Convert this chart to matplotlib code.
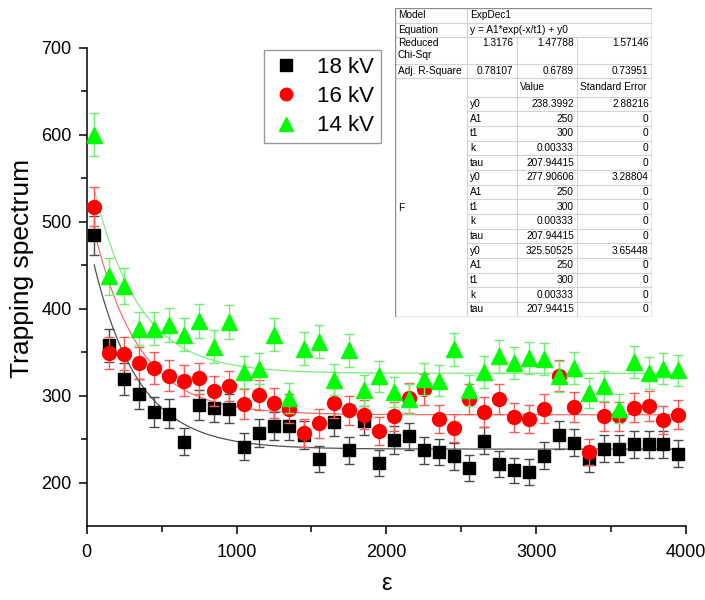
import numpy as np
import matplotlib.pyplot as plt
from matplotlib.lines import Line2D
from matplotlib.patches import Rectangle

plt.rcParams['font.family'] = ['Liberation Sans', 'DejaVu Sans']

# ---- data ----
eps = [50, 150, 250, 350, 450, 550, 650, 750, 850, 950,
       1050, 1150, 1250, 1350, 1450, 1550, 1650, 1750, 1850, 1950,
       2050, 2150, 2250, 2350, 2450, 2550, 2650, 2750, 2850, 2950,
       3050, 3150, 3250, 3350, 3450, 3550, 3650, 3750, 3850, 3950]

trap_18kv = [484, 358, 319, 302, 281, 279, 247, 289, 286, 285,
             241, 257, 265, 265, 255, 227, 270, 237, 271, 222,
             249, 253, 237, 235, 230, 217, 248, 221, 214, 212,
             231, 255, 246, 227, 239, 239, 244, 244, 244, 233]
err_18kv = [22.0, 18.9, 17.9, 17.4, 16.8, 16.7, 15.7, 17.0, 16.9, 16.9,
            15.5, 16.0, 16.3, 16.3, 16.0, 15.1, 16.4, 15.4, 16.5, 14.9,
            15.8, 15.9, 15.4, 15.3, 15.2, 14.7, 15.7, 14.9, 14.6, 14.6,
            15.2, 16.0, 15.7, 15.1, 15.5, 15.5, 15.6, 15.6, 15.6, 15.3]

trap_16kv = [517, 349, 348, 337, 332, 323, 317, 320, 305, 311,
             290, 301, 291, 285, 257, 268, 291, 283, 278, 259,
             276, 297, 307, 273, 263, 296, 281, 296, 275, 273,
             285, 323, 287, 235, 276, 276, 286, 288, 272, 278]
err_16kv = [22.7, 18.7, 18.7, 18.4, 18.2, 18.0, 17.8, 17.9, 17.5, 17.6,
            17.0, 17.3, 17.1, 16.9, 16.0, 16.4, 17.1, 16.8, 16.7, 16.1,
            16.6, 17.2, 17.5, 16.5, 16.2, 17.2, 16.8, 17.2, 16.6, 16.5,
            16.9, 18.0, 16.9, 15.3, 16.6, 16.6, 16.9, 17.0, 16.5, 16.7]

trap_14kv = [600, 437, 426, 377, 377, 381, 370, 386, 356, 385,
             327, 331, 370, 297, 354, 362, 318, 352, 306, 322,
             304, 296, 319, 317, 353, 306, 327, 345, 337, 343,
             342, 322, 332, 303, 311, 285, 339, 326, 331, 329]
err_14kv = [24.5, 20.9, 20.6, 19.4, 19.4, 19.5, 19.2, 19.6, 18.9, 19.6,
            18.1, 18.2, 19.2, 17.2, 18.8, 19.0, 17.8, 18.8, 17.5, 17.9,
            17.4, 17.2, 17.9, 17.8, 18.8, 17.5, 18.1, 18.6, 18.4, 18.5,
            18.5, 17.9, 18.2, 17.4, 17.6, 16.9, 18.4, 18.1, 18.2, 18.1]

labels = ['18 kV', '16 kV', '14 kV']

# ExpDec1 fit results (from the table)
fit_y0 = [238.3992, 277.90606, 325.50525]
fit_y0_err = [2.88216, 3.28804, 3.65448]
fit_A1 = 250
fit_t1 = 300
fit_k = 0.00333
fit_tau = 207.94415
chi_sqr = ['1.3176', '1.47788', '1.57146']
adj_r2 = ['0.78107', '0.6789', '0.73951']

# ---- figure ----
fig = plt.figure(figsize=(7.05, 6.0), dpi=100)
ax = fig.add_axes([0.123, 0.1233, 0.850, 0.7975])

series = [(trap_18kv, err_18kv), (trap_16kv, err_16kv), (trap_14kv, err_14kv)]
markers = ['s', 'o', '^']
msizes = [9, 10, 11]
colors = ['#000000', '#ff0000', '#00ff00']
ecolors = ['#4a4a4a', '#ff5a5a', '#70f070']
fitcolors = ['#505050', '#ff6a6a', '#7af07a']

# fitted ExpDec1 curves
xfit = np.linspace(eps[0], eps[-1], 400)
for i in range(3):
    yfit = fit_A1 * np.exp(-xfit / fit_t1) + fit_y0[i]
    ax.plot(xfit, yfit, color=fitcolors[i], lw=0.9, zorder=1)

handles = []
for i, (yv, ev) in enumerate(series):
    ax.errorbar(eps, yv, yerr=ev, fmt=markers[i], color=colors[i], ms=msizes[i],
                ecolor=ecolors[i], elinewidth=1, capsize=3.5, capthick=1,
                mec=colors[i], zorder=2 + i)
    handles.append(Line2D([], [], ls='none', marker=markers[i], color=colors[i],
                          ms=msizes[i] - 1))

ax.set_xlim(0, 4000)
ax.set_ylim(150, 700)
ax.set_xticks([0, 1000, 2000, 3000, 4000])
ax.set_xticks([500, 1500, 2500, 3500], minor=True)
ax.set_yticks([200, 300, 400, 500, 600, 700])
ax.set_yticks([250, 350, 450, 550, 650], minor=True)
ax.spines['top'].set_visible(False)
ax.spines['right'].set_visible(False)
for sp in ['left', 'bottom']:
    ax.spines[sp].set_linewidth(1.1)
ax.tick_params(which='major', direction='out', length=6, width=1.1, labelsize=13)
ax.tick_params(which='minor', direction='out', length=4, width=1.1)
ax.tick_params(axis='x', pad=7)
ax.tick_params(axis='y', pad=5)

ax.set_ylabel('Trapping spectrum', fontsize=19)
ax.yaxis.set_label_coords(-0.088, 0.538)
ax.set_xlabel('ε', fontsize=17)
ax.xaxis.set_label_coords(0.5, -0.098)

leg = ax.legend(handles, labels, loc='upper left', bbox_to_anchor=(0.296, 0.995),
                fontsize=16, frameon=True, fancybox=False, edgecolor='#808080',
                handletextpad=0.7, labelspacing=0.38, borderpad=0.3,
                handlelength=1.4, borderaxespad=0)
leg.get_frame().set_linewidth(1.0)

# ---- fit result table ----
col_x = [395, 467.3, 516.7, 576.7, 651.7]
row_y = [8.3, 22.7, 36.7, 64.0, 78.3, 96.7]
row_h = 14.67
par_rows = []
for i in range(3):
    par_rows += [('y0', str(fit_y0[i]), str(fit_y0_err[i])),
                 ('A1', str(fit_A1), '0'),
                 ('t1', str(fit_t1), '0'),
                 ('k', str(fit_k), '0'),
                 ('tau', str(fit_tau), '0')]
for n in range(len(par_rows)):
    row_y.append(96.7 + (n + 1) * row_h)

W, H = 705, 600
tab = fig.add_axes([col_x[0] / W, 1 - row_y[-1] / H,
                    (col_x[-1] - col_x[0]) / W, (row_y[-1] - row_y[0]) / H], zorder=10)
tab.set_xlim(col_x[0], col_x[-1])
tab.set_ylim(row_y[-1], row_y[0])
tab.set_axis_off()
tab.add_patch(Rectangle((col_x[0], row_y[0]), col_x[-1] - col_x[0], row_y[-1] - row_y[0],
                        facecolor='white', edgecolor='none', zorder=0))

inner = dict(color='#d4d4d4', lw=0.8, zorder=1)
for yy in row_y[1:5]:
    tab.plot([col_x[0], col_x[-1]], [yy, yy], **inner)
for yy in row_y[5:-1]:
    tab.plot([col_x[1], col_x[-1]], [yy, yy], **inner)
tab.plot([col_x[1], col_x[1]], [row_y[0], row_y[-1]], **inner)
for xx in col_x[2:4]:
    tab.plot([xx, xx], [row_y[2], row_y[-1]], **inner)
tab.add_patch(Rectangle((col_x[0], row_y[0]), col_x[-1] - col_x[0], row_y[-1] - row_y[0],
                        facecolor='none', edgecolor='#8c8c8c', lw=1.0, zorder=2))

fs = 7.3
pad = 3
def cell(txt, c, r0, ha='left', va='center'):
    xx = col_x[c] + pad if ha == 'left' else col_x[c + 1] - pad
    yy = (row_y[r0] + row_y[r0 + 1]) / 2 if va == 'center' else row_y[r0] + 1.5
    tab.text(xx, yy, txt, ha=ha, va=va, fontsize=fs, zorder=3)

cell('Model', 0, 0)
cell('ExpDec1', 1, 0)
cell('Equation', 0, 1)
cell('y = A1*exp(-x/t1) + y0', 1, 1)
cell('Reduced\nChi-Sqr', 0, 2, va='top')
for j in range(3):
    cell(chi_sqr[j], 1 + j, 2, ha='right', va='top')
cell('Adj. R-Square', 0, 3)
for j in range(3):
    cell(adj_r2[j], 1 + j, 3, ha='right')
cell('Value', 2, 4)
cell('Standard Error', 3, 4)
for n, (nm, val, err) in enumerate(par_rows):
    cell(nm, 1, 5 + n)
    cell(val, 2, 5 + n, ha='right')
    cell(err, 3, 5 + n, ha='right')
tab.text(col_x[0] + pad, 208, 'F', ha='left', va='center', fontsize=fs, zorder=3)

fig.savefig('out.png', dpi=100)
